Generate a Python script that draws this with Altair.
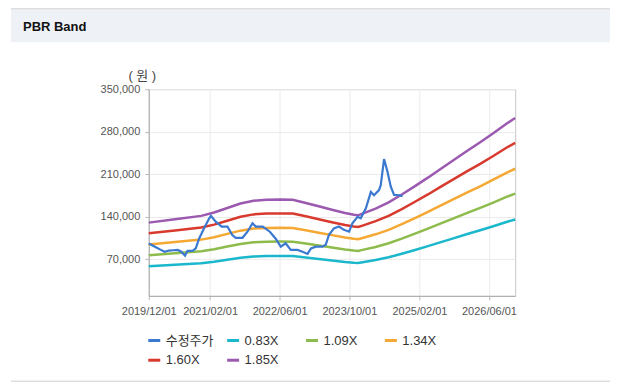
import altair as alt
import pandas as pd

# ---- data ----
price_dates = [
    "2019-12-01", "2020-01-20", "2020-02-20", "2020-03-20", "2020-04-20", "2020-05-20",
    "2020-06-20", "2020-07-15", "2020-08-10", "2020-08-27", "2020-10-01", "2020-10-24",
    "2020-11-16", "2020-12-21", "2021-01-26", "2021-02-07", "2021-03-12", "2021-04-23",
    "2021-06-02", "2021-07-06", "2021-07-30", "2021-09-15", "2021-10-20", "2021-11-24",
    "2021-12-17", "2022-02-03", "2022-03-25", "2022-05-05", "2022-06-09", "2022-07-13",
    "2022-08-18", "2022-10-04", "2022-11-08", "2022-12-13", "2023-01-06", "2023-02-10",
    "2023-03-27", "2023-04-19", "2023-05-11", "2023-06-15", "2023-07-20", "2023-08-24",
    "2023-09-29", "2023-10-22", "2023-11-27", "2023-12-19", "2024-01-24", "2024-02-28",
    "2024-03-21", "2024-04-25", "2024-05-07", "2024-05-30", "2024-06-23", "2024-07-16",
    "2024-08-08", "2024-09-13", "2024-10-06",
]
price_values = [
    96000, 90000, 86000, 82500, 84500, 85000,
    85500, 82500, 76000, 84000, 84000, 88000,
    104000, 121000, 137500, 141500, 132000, 124000,
    124000, 110000, 105500, 105500, 115500, 129500,
    124000, 124000, 115500, 104000, 91000, 96500,
    85500, 85500, 82500, 79000, 88000, 91000,
    91000, 94000, 110000, 121000, 124000, 118500,
    115500, 129500, 140000, 137500, 154000, 181000,
    175500, 184000, 192000, 235000, 214000, 189500,
    176000, 175500, 174000,
]

# book value per share (band base)
bps_dates = [
    "2019-12-01", "2020-06-01", "2020-12-01", "2021-03-01", "2021-06-01", "2021-09-01",
    "2021-12-01", "2022-03-01", "2022-06-01", "2022-09-01", "2022-12-01", "2023-03-01",
    "2023-06-01", "2023-09-01", "2023-11-01", "2023-12-01", "2024-01-01", "2024-04-01",
    "2024-07-01", "2024-10-01", "2025-01-01", "2025-04-01", "2025-07-01", "2025-10-01",
    "2026-01-01", "2026-04-01", "2026-07-01", "2026-10-01", "2026-12-01",
]
bps_values = [
    70500, 73500, 76500, 79500, 83500, 87500,
    90000, 90800, 91000, 90800, 88000, 85000,
    82000, 79000, 77500, 77000, 78500, 83000,
    88500, 95500, 103000, 110500, 118500, 126500,
    134500, 142000, 150000, 158500, 163500,
]
multiples = [0.83, 1.09, 1.34, 1.60, 1.85]

series_names = ["수정주가", "0.83X", "1.09X", "1.34X", "1.60X", "1.85X"]
series_colors = ["#3b78cf", "#1bb7cc", "#8dbb4c", "#f5a833", "#d83a2e", "#9b59b0"]

y_ticks = [70000, 140000, 210000, 280000, 350000]
x_ticks = [(2019, 12), (2021, 2), (2022, 6), (2023, 10), (2025, 2), (2026, 6)]

# ---- tables ----
price_df = pd.DataFrame({"date": price_dates, "value": price_values, "series": "수정주가"})
band_df = pd.concat(
    [pd.DataFrame({"date": bps_dates,
                   "value": [v * m for v in bps_values],
                   "series": f"{m:.2f}X"}) for m in multiples],
    ignore_index=True,
)

W, H = 367, 207
FONT = "Liberation Sans, Noto Sans CJK KR, sans-serif"

x_enc = alt.X(
    "date:T",
    scale=alt.Scale(
        type="utc",
        domain=[alt.DateTime(year=2019, month=12, date=1, utc=True),
                alt.DateTime(year=2026, month=12, date=1, utc=True)],
    ),
    axis=alt.Axis(
        values=[alt.DateTime(year=y, month=m, date=1, utc=True) for y, m in x_ticks],
        labelExpr="utcFormat(datum.value, '%Y/%m/%d')", title=None,
        labelFontSize=11, labelColor="#555555", labelPadding=6,
        tickSize=4, tickColor="#bbbbbb", domainColor="#aaaaaa",
        gridColor="#ebebeb", labelFont=FONT, labelFlush=False,
        labelOverlap=False,
    ),
)
y_enc = alt.Y(
    "value:Q",
    scale=alt.Scale(domain=[10000, 350000], nice=False, zero=False),
    axis=alt.Axis(
        values=y_ticks, format=",d", title="( 원 )",
        titleAngle=0, titleAlign="center", titleBaseline="middle",
        titleX=-7, titleY=-14, titleFontSize=13, titleFontWeight="normal",
        titleColor="#444444", titleFont=FONT,
        labelFontSize=11, labelColor="#555555", labelPadding=5,
        tickSize=4, tickColor="#bbbbbb", domainColor="#aaaaaa",
        gridColor="#ebebeb", labelFont=FONT,
    ),
)
color_enc = alt.Color(
    "series:N",
    scale=alt.Scale(domain=series_names, range=series_colors),
    legend=alt.Legend(
        title=None, orient="none", legendX=-2, legendY=244,
        direction="horizontal", columns=4, gridAlign="all",
        symbolType="stroke", symbolSize=144, symbolStrokeWidth=3,
        labelFontSize=13, labelColor="#333333", labelFont=FONT,
        labelOffset=4, columnPadding=7, rowPadding=5, padding=0,
    ),
)

one = alt.Data(values=[{}])

header_bg = alt.Chart(one).mark_rect(color="#eef2f7").encode(
    x=alt.value(-138), x2=alt.value(462), y=alt.value(-80), y2=alt.value(-47))
top_line = alt.Chart(one).mark_rule(color="#cfcfcf", strokeWidth=1).encode(
    x=alt.value(-138), x2=alt.value(462), y=alt.value(-80.5))
bottom_line = alt.Chart(one).mark_rule(color="#cfcfcf", strokeWidth=1).encode(
    x=alt.value(-138), x2=alt.value(462), y=alt.value(292.5))
title = alt.Chart(one).mark_text(
    text="PBR Band", align="left", baseline="middle", fontSize=13,
    fontWeight="bold", font=FONT, color="#111111",
).encode(x=alt.value(-126), y=alt.value(-62))

bands = alt.Chart(band_df).mark_line(strokeWidth=2.5).encode(
    x=x_enc, y=y_enc, color=color_enc, detail="series:N")
price = alt.Chart(price_df).mark_line(strokeWidth=2.2).encode(
    x=x_enc, y=y_enc, color=color_enc)

chart = alt.layer(
    header_bg, top_line, bottom_line, title, bands, price
).properties(
    width=W, height=H,
    padding={"left": 2, "top": 0, "right": 0, "bottom": 0},
    autosize=alt.AutoSizeParams(type="pad"),
    background="white",
).configure_view(
    stroke="#c8c8c8"
)

chart.save("out.html", embed_options={"renderer": "svg", "actions": False})
